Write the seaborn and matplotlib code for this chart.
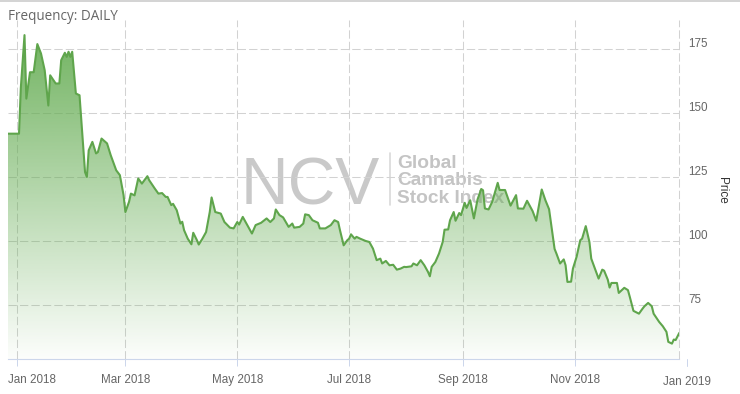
import numpy as np
import pandas as pd
import matplotlib
matplotlib.use("Agg")
import matplotlib.pyplot as plt
import matplotlib.dates as mdates
from matplotlib.lines import Line2D
from matplotlib.path import Path
from matplotlib.transforms import ScaledTranslation, blended_transform_factory
import seaborn as sns

# ---------------- data ----------------
dates = [
    "2017-12-27", "2018-01-02", "2018-01-03", "2018-01-05", "2018-01-06", "2018-01-08",
    "2018-01-10", "2018-01-12", "2018-01-14", "2018-01-16", "2018-01-18", "2018-01-19",
    "2018-01-22", "2018-01-24", "2018-01-25", "2018-01-27", "2018-01-28", "2018-01-29",
    "2018-01-30", "2018-01-31", "2018-02-02", "2018-02-04", "2018-02-07", "2018-02-08",
    "2018-02-09", "2018-02-11", "2018-02-13", "2018-02-14", "2018-02-16", "2018-02-19",
    "2018-02-21", "2018-02-23", "2018-02-24", "2018-02-26", "2018-02-28", "2018-03-01",
    "2018-03-03", "2018-03-04", "2018-03-06", "2018-03-08", "2018-03-10", "2018-03-13",
    "2018-03-14", "2018-03-17", "2018-03-19", "2018-03-21", "2018-03-23", "2018-03-24",
    "2018-03-26", "2018-03-27", "2018-03-29", "2018-03-31", "2018-04-01", "2018-04-02",
    "2018-04-04", "2018-04-06", "2018-04-07", "2018-04-09", "2018-04-10", "2018-04-12",
    "2018-04-14", "2018-04-16", "2018-04-17", "2018-04-19", "2018-04-22", "2018-04-24",
    "2018-04-27", "2018-04-29", "2018-05-01", "2018-05-02", "2018-05-04", "2018-05-06",
    "2018-05-09", "2018-05-11", "2018-05-14", "2018-05-17", "2018-05-19", "2018-05-21",
    "2018-05-22", "2018-05-24", "2018-05-26", "2018-05-29", "2018-05-31", "2018-06-01",
    "2018-06-04", "2018-06-06", "2018-06-07", "2018-06-09", "2018-06-11", "2018-06-14",
    "2018-06-15", "2018-06-18", "2018-06-21", "2018-06-23", "2018-06-25", "2018-06-26",
    "2018-06-28", "2018-06-30", "2018-07-01", "2018-07-02", "2018-07-04", "2018-07-05",
    "2018-07-07", "2018-07-10", "2018-07-12", "2018-07-14", "2018-07-16", "2018-07-18",
    "2018-07-19", "2018-07-21", "2018-07-23", "2018-07-25", "2018-07-27", "2018-07-29",
    "2018-07-31", "2018-08-01", "2018-08-04", "2018-08-05", "2018-08-07", "2018-08-09",
    "2018-08-11", "2018-08-13", "2018-08-14", "2018-08-15", "2018-08-17", "2018-08-19",
    "2018-08-21", "2018-08-22", "2018-08-24", "2018-08-25", "2018-08-27", "2018-08-28",
    "2018-08-30", "2018-08-31", "2018-09-02", "2018-09-03", "2018-09-05", "2018-09-07",
    "2018-09-09", "2018-09-11", "2018-09-12", "2018-09-13", "2018-09-15", "2018-09-17",
    "2018-09-20", "2018-09-21", "2018-09-24", "2018-09-27", "2018-09-30", "2018-10-01",
    "2018-10-04", "2018-10-06", "2018-10-09", "2018-10-11", "2018-10-14", "2018-10-16",
    "2018-10-18", "2018-10-21", "2018-10-22", "2018-10-24", "2018-10-26", "2018-10-27",
    "2018-10-28", "2018-10-30", "2018-10-31", "2018-11-02", "2018-11-04", "2018-11-05",
    "2018-11-07", "2018-11-09", "2018-11-10", "2018-11-12", "2018-11-14", "2018-11-16",
    "2018-11-17", "2018-11-19", "2018-11-20", "2018-11-21", "2018-11-24", "2018-11-25",
    "2018-11-28", "2018-11-30", "2018-12-01", "2018-12-03", "2018-12-06", "2018-12-08",
    "2018-12-09", "2018-12-11", "2018-12-13", "2018-12-14", "2018-12-17", "2018-12-19",
    "2018-12-21", "2018-12-22", "2018-12-24", "2018-12-25", "2018-12-26", "2018-12-28",
]
prices = [
    142, 142, 160, 180.5, 155.7, 166,
    166, 177, 173.3, 166.8, 153, 164.8,
    161.6, 161.6, 170.7, 173.6, 172, 174,
    172, 174, 157.7, 157, 127, 125.1,
    135.5, 138.8, 134.3, 134.8, 140.1, 138.2,
    133.6, 129.7, 127.7, 125.8, 118, 111.4,
    115.4, 118.6, 117.9, 124.5, 122.5, 125.4,
    123.8, 120.6, 118.6, 118.8, 117.3, 117.3,
    114.1, 114.6, 112.1, 106.9, 107.6, 104.3,
    101, 98.8, 103.3, 100.4, 98.7, 101,
    103.6, 111.4, 117.1, 111.4, 110.8, 107.5,
    105.3, 105, 107.5, 106.5, 109.5, 106.9,
    103, 106.3, 107.2, 108.9, 107.5, 108.9,
    112.4, 110.2, 109.3, 105.6, 106.9, 105.3,
    105.6, 106.9, 110.5, 110.2, 108.2, 107.2,
    105, 105, 106.3, 108.2, 107.5, 104.3,
    98.4, 100.4, 101, 102.7, 101, 101.7,
    101, 100.1, 99.7, 97.1, 92.6, 93.2,
    91.3, 92.3, 90.6, 90.8, 88.9, 89.3,
    90, 89.9, 90.2, 91.3, 90.6, 92.6,
    90.6, 88, 86.3, 90, 91.9, 95.2,
    99.7, 104.5, 104.6, 108.2, 111.4, 108,
    111, 110.2, 115, 113, 116, 108.9,
    116.3, 120.4, 119.9, 112.8, 112.4, 115.4,
    122.8, 120, 120, 113.9, 118, 112.8,
    112.7, 115.8, 111.8, 108, 120.2, 116,
    112.5, 97, 95.2, 91.3, 92.9, 90.6,
    84.1, 84.2, 89.3, 93.9, 100.4, 101,
    105.9, 99.7, 93.2, 89.3, 85.4, 88.9,
    88.5, 85, 81.9, 83.7, 83.7, 79.8,
    81.8, 80.9, 78.3, 72.8, 71.7, 73.7,
    74.6, 75.9, 74.6, 71.7, 68.5, 66.8,
    64.6, 60.7, 60, 61.6, 61.4, 64.2,
]
x_tick_dates = ["2018-01-01", "2018-03-01", "2018-05-01", "2018-07-01", "2018-09-01", "2018-11-01"]
x_tick_labels = ["Jan 2018", "Mar 2018", "May 2018", "Jul 2018", "Sep 2018", "Nov 2018"]
extra_tick_date = "2019-01-01"
extra_tick_label = "Jan 2019"
y_ticks = [75, 100, 125, 150, 175]
title_text = "Frequency: DAILY"
y_label = "Price"
wm_big = "NCV"
wm_lines = ["Global", "Cannabis", "Stock Index"]

# ---------------- style ----------------
sns.set_style("white")
plt.rcParams["font.family"] = ["Liberation Sans", "DejaVu Sans"]

W, H = 740, 394
fig = plt.figure(figsize=(W / 100, H / 100), dpi=100)
fig.patch.set_facecolor("white")

def fx(px):
    return px / W

def fy(py):
    return 1 - py / H

ax_l, ax_r, ax_t, ax_b = 8, 679.3, 20, 359
ax = fig.add_axes([fx(ax_l), fy(ax_b), (ax_r - ax_l) / W, (ax_b - ax_t) / H])
ax.set_facecolor("none")

df = pd.DataFrame({"date": pd.to_datetime(dates), "price": prices})

ybot, ytop = 54.0, 186.4
xleft = mdates.date2num(pd.Timestamp("2017-12-27"))
xright = mdates.date2num(pd.Timestamp("2018-12-28"))

# watermark (behind everything)
wm_col = (0.79, 0.79, 0.79)
fig.text(fx(241), fy(205), wm_big, fontsize=47.5, color=wm_col, ha="left", va="baseline",
         family=["Liberation Sans", "DejaVu Sans"], zorder=-5)
fig.add_artist(Line2D([fx(390), fx(390)], [fy(153), fy(205)], transform=fig.transFigure,
                      color=(0.85, 0.85, 0.85), lw=1.2, zorder=-5))
for txt, base in zip(wm_lines, [168, 185.5, 203]):
    fig.text(fx(397), fy(base), txt, fontsize=13.8, fontweight="bold", color=(0.77, 0.77, 0.77),
             ha="left", va="baseline", zorder=-5)

# gradient area fill
xs = mdates.date2num(df["date"])
ys = df["price"].to_numpy()
base_rgb = (0.40, 0.68, 0.33)
n = 256
grad = np.zeros((n, 1, 4))
grad[..., 0], grad[..., 1], grad[..., 2] = base_rgb
grad[:, 0, 3] = np.linspace(0.02, 0.92, n)
im = ax.imshow(grad, extent=[xleft, xright, ybot, ys.max()], origin="lower",
               aspect="auto", zorder=1, interpolation="bilinear")
verts = np.vstack([np.column_stack([xs, ys]), [[xs[-1], ybot], [xs[0], ybot], [xs[0], ys[0]]]])
clip = Path(verts, closed=True)
im.set_clip_path(clip, transform=ax.transData)

# line
sns.lineplot(data=df, x="date", y="price", ax=ax, color="#5fa54c", linewidth=1.5, zorder=3)

ax.set_xlim(xleft, xright)
ax.set_ylim(ybot, ytop)

# grid
grid_kw = dict(color="#d2d2d2", linestyle=(0, (8, 3)), linewidth=0.75)
ax.grid(True, **grid_kw)
ax.set_axisbelow(True)
ax.axvline(xright, clip_on=False, zorder=0.5, **grid_kw)

# x axis
ax.set_xticks(mdates.date2num(pd.to_datetime(x_tick_dates)))
ax.set_xticklabels(x_tick_labels)
ax.tick_params(axis="x", direction="out", length=5, width=0.72, color="#ccd6eb",
               labelcolor="#666666", labelsize=8.4, pad=5.5, bottom=True)
ax.set_xlabel("")
# first label is pushed inside the chart (as in the reference)
first = ax.get_xticklabels()[0]
first.set_horizontalalignment("left")
first.set_transform(first.get_transform() + ScaledTranslation(-9.3 / 100, 0, fig.dpi_scale_trans))

# y axis on right
ax.yaxis.tick_right()
ax.set_yticks(y_ticks)
ax.set_yticklabels([str(v) for v in y_ticks])
ax.tick_params(axis="y", length=0, labelcolor="#666666", labelsize=8.4, pad=6.5)
ax.set_ylabel("")
shift = ScaledTranslation(0, 7 / 100, fig.dpi_scale_trans)
for lab in ax.get_yticklabels():
    lab.set_transform(lab.get_transform() + shift)

for s in ["top", "left", "right"]:
    ax.spines[s].set_visible(False)
ax.spines["bottom"].set_color("#ccd6eb")
ax.spines["bottom"].set_linewidth(0.8)

# extra Jan 2019 tick outside plot area
bt = blended_transform_factory(ax.transData, ax.transAxes)
xj = mdates.date2num(pd.Timestamp(extra_tick_date))
ax.add_artist(Line2D([xj, xj], [0, -7 / (ax_b - ax_t)], transform=bt, clip_on=False,
                     color="#ccd6eb", lw=0.72))
ax.annotate(extra_tick_label, xy=(xj, 0), xycoords=bt, xytext=(0, -12.5),
            textcoords="offset points", ha="center", va="top", fontsize=8.4,
            color="#666666", annotation_clip=False)

# titles
fig.text(fx(8), fy(16), title_text, fontsize=9.75, color="#666666", ha="left", va="center",
         family=["Open Sans", "DejaVu Sans"])
fig.text(fx(722), fy(190), y_label, rotation=270, fontsize=8.5, color="#333333",
         ha="center", va="center")

# top border
fig.add_artist(Line2D([0, 1], [fy(0.6), fy(0.6)], transform=fig.transFigure,
                      color="#cccccc", lw=1.2))

fig.savefig("out.png", dpi=100, facecolor="white")
